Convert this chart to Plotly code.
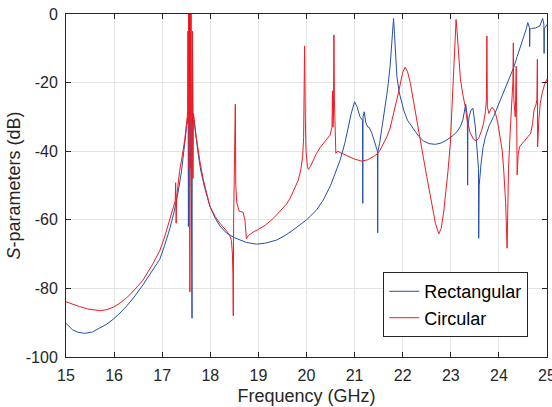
import plotly.graph_objects as go

# ---- Data ----
freq_rect = [15.00, 15.07, 15.14, 15.25, 15.39, 15.55, 15.70, 15.85, 15.98, 16.10, 16.25, 16.40,
             16.60, 16.80, 16.95, 17.05, 17.16, 17.25, 17.33, 17.40, 17.45, 17.49,
             17.52, 17.54, 17.545, 17.55, 17.56, 17.57, 17.575, 17.58, 17.59, 17.60, 17.61, 17.62,
             17.625, 17.63, 17.64, 17.66,
             17.70, 17.75, 17.80, 17.88, 17.99, 18.10, 18.20, 18.34, 18.50, 18.61, 18.75, 18.96,
             19.15, 19.38, 19.55, 19.72, 19.85, 20.00, 20.20, 20.35, 20.50, 20.60, 20.70, 20.80,
             20.87, 20.93, 21.00, 21.05, 21.11, 21.165, 21.17, 21.175, 21.20, 21.23, 21.27, 21.30,
             21.36, 21.43, 21.475, 21.48, 21.485, 21.52, 21.56, 21.60, 21.64, 21.67, 21.70, 21.74,
             21.77, 21.79, 21.81, 21.83, 21.85, 21.88, 21.93, 21.97, 22.02, 22.10, 22.23, 22.33,
             22.43, 22.55, 22.68, 22.80, 22.92, 23.03, 23.13, 23.20, 23.25, 23.29, 23.31, 23.345,
             23.35, 23.355, 23.38, 23.42, 23.46, 23.51, 23.575, 23.58, 23.59, 23.63, 23.67, 23.72,
             23.80, 23.89, 23.96, 24.03, 24.13, 24.24, 24.31, 24.38, 24.45, 24.52, 24.57, 24.60,
             24.635, 24.64, 24.645, 24.68, 24.76, 24.85, 24.91, 24.935, 24.94, 24.945, 24.97, 25.00]
s_rect = [-90.2, -91.3, -92.1, -92.8, -93.1, -92.7, -91.6, -90.4, -89.0, -87.5, -85.3, -82.8,
          -79.0, -74.8, -71.5, -67.5, -62.5, -57.5, -52.0, -46.0, -40.5, -35.0,
          -31.0, -30.0, -62.0, -30.0, -20.0, 0.0, -30.0, -45.0, 0.0, -30.0, -42.0, -88.7,
          -31.0, -10.0, -32.0, -31.0,
          -36.0, -41.0, -45.5, -50.5, -56.0, -59.5, -61.8, -63.9, -65.2, -65.9, -66.6, -67.1,
          -66.8, -65.9, -64.6, -63.0, -61.6, -60.0, -57.3, -54.2, -50.0, -46.5, -42.6, -37.5,
          -33.0, -29.0, -25.6, -27.0, -29.9, -31.0, -55.2, -30.0, -28.5, -31.5, -32.9, -33.0,
          -34.8, -37.7, -40.0, -63.8, -40.0, -37.7, -34.0, -31.0, -27.0, -23.5, -20.2, -15.0,
          -9.0, -5.0, -1.3, -6.0, -12.0, -18.3, -23.0, -25.5, -28.0, -31.0, -33.8, -35.6,
          -37.0, -37.8, -38.0, -37.6, -36.7, -35.6, -34.3, -32.8, -30.9, -28.0, -26.3, -30.0,
          -49.9, -33.0, -30.0, -28.0, -27.5, -32.9, -45.0, -65.4, -50.0, -43.5, -39.0, -35.8,
          -32.5, -29.9, -27.5, -25.0, -21.8, -18.3, -15.5, -12.4, -9.5, -6.6, -4.3, -2.5,
          -4.0, -9.5, -4.5, -4.2, -4.1, -3.5, -1.3, -3.0, -11.5, -4.0, -3.8, -3.0]

freq_circ = [15.00, 15.14, 15.28, 15.45, 15.60, 15.70, 15.85, 15.98, 16.10, 16.25, 16.40, 16.60,
             16.80, 16.95, 17.05, 17.16, 17.22, 17.27, 17.28, 17.29, 17.30, 17.36, 17.42, 17.47,
             17.52, 17.53, 17.535, 17.54, 17.55, 17.555, 17.56, 17.565, 17.57,
             17.575, 17.58, 17.585, 17.59, 17.595, 17.60, 17.605, 17.61, 17.615, 17.62, 17.625,
             17.63, 17.635, 17.64, 17.645, 17.65, 17.66,
             17.70, 17.74, 17.78, 17.85, 17.92, 17.99, 18.10, 18.20, 18.34, 18.40, 18.44, 18.46,
             18.47, 18.478, 18.485, 18.515, 18.52, 18.53, 18.55, 18.60, 18.68, 18.72, 18.75,
             18.80, 18.90, 19.00, 19.15, 19.31, 19.45, 19.58, 19.66, 19.75, 19.83, 19.88, 19.92,
             19.94, 19.95, 19.96, 19.975, 19.99, 20.02, 20.04, 20.08, 20.14, 20.21, 20.28, 20.35,
             20.42, 20.49, 20.53, 20.54, 20.55, 20.56, 20.57, 20.58, 20.61, 20.65, 20.70, 20.80,
             20.90, 21.00, 21.15, 21.27, 21.39, 21.47, 21.53, 21.60, 21.67, 21.74, 21.80, 21.86,
             21.91, 21.96, 22.00, 22.05, 22.10, 22.16, 22.23, 22.30, 22.40, 22.50, 22.60, 22.68,
             22.75, 22.80, 22.85, 22.89, 22.94, 22.99, 23.03, 23.06, 23.09, 23.11, 23.13, 23.16,
             23.20, 23.25, 23.30, 23.34, 23.40, 23.47, 23.53, 23.58, 23.64, 23.68, 23.72, 23.74,
             23.75, 23.76, 23.79, 23.83, 23.86, 23.90, 23.93, 23.98, 24.03, 24.07, 24.10, 24.14,
             24.17, 24.20, 24.24, 24.29, 24.30, 24.31, 24.34, 24.36, 24.38, 24.40, 24.43, 24.50,
             24.59, 24.66, 24.70, 24.73, 24.77, 24.79, 24.80, 24.805, 24.83, 24.86, 24.90, 24.95,
             25.00]
s_circ = [-83.9, -84.7, -85.3, -86.0, -86.4, -86.5, -86.2, -85.5, -84.5, -82.9, -80.8, -77.6,
          -73.0, -69.0, -65.0, -60.0, -57.0, -54.5, -49.2, -61.0, -53.5, -46.0, -41.0, -36.5,
          -30.0, -28.0, -5.0, -32.0, 0.0, -45.0, -30.0, 0.0, -40.0,
          -81.0, -30.0, 0.0, -63.0, -30.0, 0.0, -50.0, -32.0, -1.0, -45.0, -30.0,
          -5.0, -35.0, -48.0, -30.0, -29.0, -30.0,
          -35.0, -39.0, -42.6, -48.0, -52.5, -56.0, -59.0, -61.0, -63.3, -64.5, -66.0, -70.0,
          -76.0, -88.0, -60.0, -35.0, -26.3, -50.0, -55.0, -57.5, -57.8, -60.0, -65.5,
          -64.5, -63.5, -62.8, -61.5, -59.6, -57.5, -55.5, -53.7, -51.0, -48.4, -45.5, -41.6,
          -36.0, -28.0, -9.3, -30.0, -40.0, -44.5, -45.3, -44.5, -42.5, -40.6, -39.0, -37.7,
          -36.5, -35.3, -33.0, -22.4, -33.0, -30.0, -6.1, -25.0, -40.6, -40.0, -40.4, -41.0,
          -41.6, -42.3, -42.9, -42.5, -41.6, -40.8, -39.7, -37.7, -35.8, -33.2, -30.0, -26.0,
          -23.1, -19.5, -17.0, -15.5, -16.8, -20.2, -25.5, -31.9, -39.5, -47.4, -55.0, -61.0,
          -64.1, -62.5, -58.0, -53.3, -46.0, -37.7, -26.0, -13.4, -5.0, -1.6, -5.0, -12.0,
          -19.0, -23.5, -27.0, -31.0, -34.5, -36.5, -37.0, -36.2, -34.0, -31.9, -28.5, -25.0,
          -6.4, -27.0, -29.0, -27.8, -27.2, -28.0, -29.0, -32.0, -35.8, -40.0, -45.5, -55.0,
          -68.3, -45.0, -32.9, -20.0, -8.4, -25.0, -30.0, -15.2, -46.9, -41.0, -38.7, -37.5,
          -36.2, -34.8, -32.0, -28.0, -26.5, -25.0, -13.2, -38.7, -31.0, -26.0, -23.0, -20.5,
          -19.0]

x_tick_vals = [15, 16, 17, 18, 19, 20, 21, 22, 23, 24, 25]
x_tick_text = ["15", "16", "17", "18", "19", "20", "21", "22", "23", "24", "25"]
y_tick_vals = [-100, -80, -60, -40, -20, 0]
y_tick_text = ["-100", "-80", "-60", "-40", "-20", "0"]

series_names = ["Rectangular", "Circular"]
x_title = "Frequency (GHz)"
y_title = "<i>S</i>-parameters (dB)"

# ---- Styling ----
BLUE = "#2350a8"
RED = "#ee1c25"
AXIS = "#262626"
GRID = "#e4e4e4"
FONT = "Liberation Sans, Arial, sans-serif"

fig = go.Figure()
fig.add_trace(go.Scatter(x=freq_rect, y=s_rect, mode="lines", name=series_names[0],
                         line=dict(color=BLUE, width=1)))
fig.add_trace(go.Scatter(x=freq_circ, y=s_circ, mode="lines", name=series_names[1],
                         line=dict(color=RED, width=1)))

axis_common = dict(
    showline=True, linecolor=AXIS, linewidth=1, mirror="allticks",
    ticks="inside", ticklen=5, tickcolor=AXIS, tickwidth=1,
    showgrid=True, gridcolor=GRID, gridwidth=1, zeroline=False,
    tickfont=dict(family=FONT, size=16, color=AXIS),
    ticklabeloverflow="allow",
)

fig.update_layout(
    width=552, height=407,
    margin=dict(l=66, r=5, t=14, b=50),
    paper_bgcolor="white", plot_bgcolor="white",
    font=dict(family=FONT, color=AXIS),
    xaxis=dict(range=[15, 25], tickvals=x_tick_vals, ticktext=x_tick_text,
               title=dict(text=x_title, font=dict(family=FONT, size=18, color=AXIS), standoff=6),
               ticklabelstandoff=4, automargin=False, **axis_common),
    yaxis=dict(range=[-100, 0], tickvals=y_tick_vals, ticktext=y_tick_text,
               title=dict(text=y_title, font=dict(family=FONT, size=18, color=AXIS), standoff=0),
               ticklabelstandoff=4, automargin=False, **axis_common),
    legend=dict(x=0.961, xanchor="right", y=0.058, yanchor="bottom",
                bgcolor="white", bordercolor=AXIS, borderwidth=1,
                font=dict(family=FONT, size=18, color="#000000"),
                itemwidth=30, tracegroupgap=0),
    showlegend=True,
)

fig.write_html("out.html")
